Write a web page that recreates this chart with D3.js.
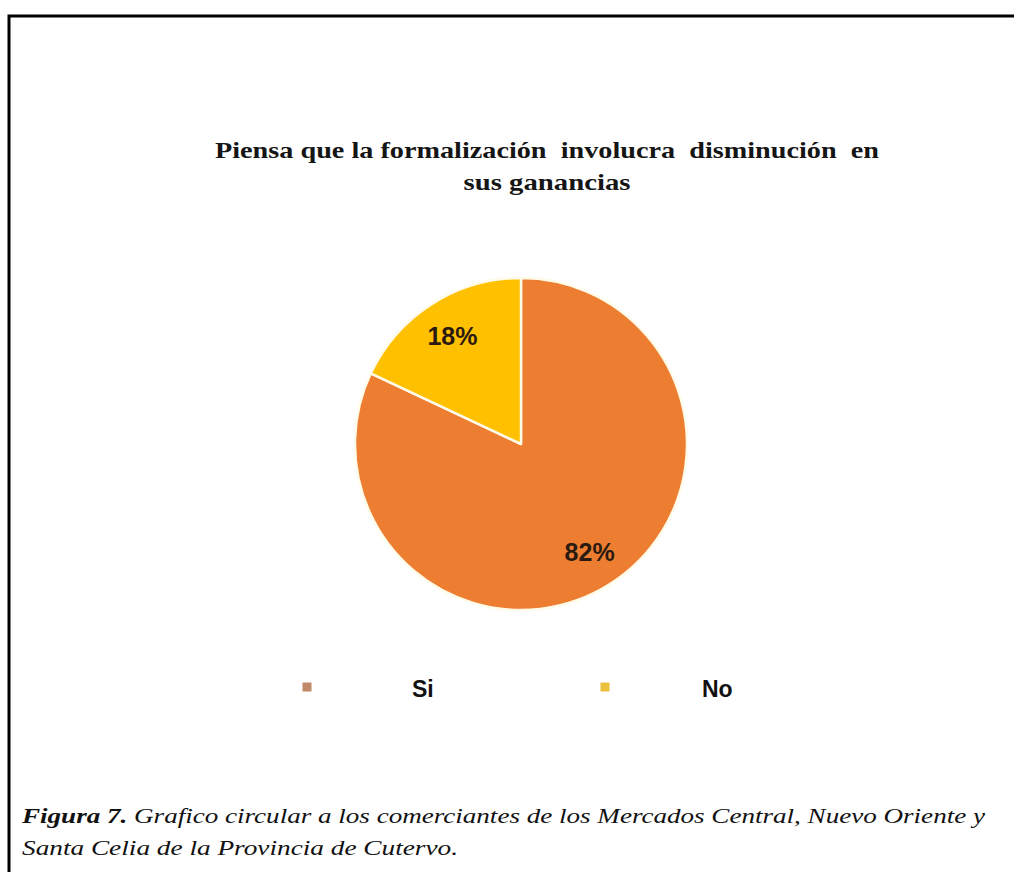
<!DOCTYPE html>
<html>
<head>
<meta charset="utf-8">
<script src="https://cdn.jsdelivr.net/npm/d3@7"></script>
<style>
  html, body { margin: 0; padding: 0; background: #ffffff; }
  svg { display: block; }
</style>
</head>
<body>
<svg id="chart" width="1014" height="872"></svg>
<script>
// Survey answers: share of merchants for each response
const categories = ["Si", "No"];
const values = [82, 18];
const valueLabels = ["82%", "18%"];
const colors = ["#ed7d31", "#ffc000"];
const legendColors = ["#c08a68", "#ebc03c"];

const titleLines = [
  "Piensa que la formalización  involucra  disminución  en",
  "sus ganancias"
];

const SERIF = '"Liberation Serif", "Times New Roman", serif';
const SANS = '"Liberation Sans", Arial, sans-serif';

const svg = d3.select("#chart");

// Frame around the figure
svg.append("path")
  .attr("d", "M9,880 L9,16 L1020,16")
  .attr("fill", "none")
  .attr("stroke", "#000")
  .attr("stroke-width", 3);

// Title (two centred lines)
const titleWidths = [664, 167];
svg.append("g").selectAll("text")
  .data(titleLines)
  .join("text")
  .attr("x", 547)
  .attr("y", (d, i) => 158 + i * 32)
  .attr("text-anchor", "middle")
  .attr("textLength", (d, i) => titleWidths[i])
  .attr("lengthAdjust", "spacingAndGlyphs")
  .style("font-family", SERIF)
  .style("font-weight", "bold")
  .style("font-size", "23px")
  .style("white-space", "pre")
  .attr("fill", "#151515")
  .text(d => d);

// Pie
const cx = 521, cy = 444, r = 166;
const pie = d3.pie().sort(null).value(d => d)(values);
const arc = d3.arc().innerRadius(0).outerRadius(r);
const labelArc = d3.arc().innerRadius(128).outerRadius(128);

const g = svg.append("g").attr("transform", `translate(${cx},${cy})`);

g.selectAll("path")
  .data(pie)
  .join("path")
  .attr("d", arc)
  .attr("fill", (d, i) => colors[i])
  .attr("stroke", "#fffbe8")
  .attr("stroke-width", 2.5)
  .attr("stroke-linejoin", "round");

g.selectAll("text")
  .data(pie)
  .join("text")
  .attr("transform", d => `translate(${labelArc.centroid(d)})`)
  .attr("text-anchor", "middle")
  .attr("dy", "0.36em")
  .style("font-family", SANS)
  .style("font-weight", "bold")
  .style("font-size", "25px")
  .attr("fill", "#2b1a10")
  .text((d, i) => valueLabels[i]);

// Legend
const swatchX = d3.scalePoint().domain(categories).range([307, 605]);
const labelX = d3.scalePoint().domain(categories).range([412, 702]);
const legend = svg.append("g");

legend.selectAll("rect")
  .data(categories)
  .join("rect")
  .attr("x", d => swatchX(d) - 4.5)
  .attr("y", 682.5)
  .attr("width", 9).attr("height", 9)
  .attr("fill", (d, i) => legendColors[i]);

legend.selectAll("text")
  .data(categories)
  .join("text")
  .attr("x", d => labelX(d))
  .attr("y", 689)
  .attr("dy", "0.35em")
  .style("font-family", SANS)
  .style("font-weight", "bold")
  .style("font-size", "23px")
  .attr("fill", "#111")
  .text(d => d);

// Caption
const cap = svg.append("g")
  .style("font-family", SERIF)
  .style("font-style", "italic")
  .style("font-size", "22px")
  .attr("fill", "#111");

const line1 = cap.append("text").attr("x", 22).attr("y", 823)
  .attr("textLength", 963).attr("lengthAdjust", "spacingAndGlyphs");
line1.append("tspan").style("font-weight", "bold").text("Figura 7.");
line1.append("tspan").text(" Grafico circular a los comerciantes de los Mercados Central, Nuevo Oriente y");

cap.append("text").attr("x", 22).attr("y", 855)
  .attr("textLength", 436).attr("lengthAdjust", "spacingAndGlyphs")
  .text("Santa Celia de la Provincia de Cutervo.");
</script>
</body>
</html>
